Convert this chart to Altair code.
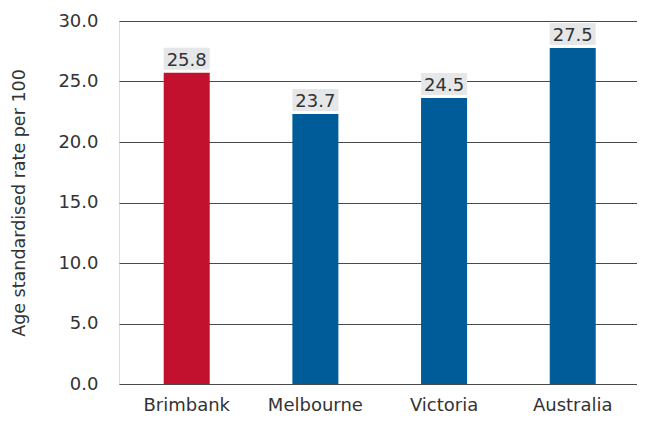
import altair as alt
import pandas as pd

categories = ["Brimbank", "Melbourne", "Victoria", "Australia"]
bar_values = [25.72, 22.31, 23.63, 27.77]
label_texts = ["25.8", "23.7", "24.5", "27.5"]
bar_colors = ["#c1112f", "#005b99", "#005b99", "#005b99"]
y_ticks = [0, 5, 10, 15, 20, 25, 30]

df = pd.DataFrame({"cat": categories, "val": bar_values, "lab": label_texts})

FONT = "DejaVu Sans"
TXT = "#333333"
BG = "#e6e7e9"
FS = 18

x = alt.X("cat:N", sort=categories, title=None,
          scale=alt.Scale(paddingInner=0.6425, paddingOuter=0.334, align=0.52),
          axis=alt.Axis(labelAngle=0, ticks=False, domain=False, labelPadding=12,
                        labelFontSize=FS, labelFont=FONT, labelColor=TXT, grid=False))
y = alt.Y("val:Q", title="Age standardised rate per 100",
          scale=alt.Scale(domain=[0, 30], nice=False),
          axis=alt.Axis(values=y_ticks, format=".1f", ticks=False, domain=False,
                        labelPadding=21, labelFontSize=FS, labelFont=FONT, labelColor=TXT,
                        titleFont=FONT, titleFontSize=17.5, titleFontWeight="normal",
                        titleColor=TXT, titlePadding=29,
                        grid=True, gridColor="#4a4a4a", gridWidth=1, gridOpacity=1))

bars = alt.Chart(df).mark_bar(opacity=1).encode(
    x=x, y=y,
    color=alt.Color("cat:N", scale=alt.Scale(domain=categories, range=bar_colors), legend=None),
)
label_bg = alt.Chart(df).mark_bar(color=BG, opacity=1, yOffset=-3, y2Offset=-25).encode(
    x=alt.X("cat:N", sort=categories), y="val:Q", y2=alt.Y2("val:Q"))
labels = alt.Chart(df).mark_text(baseline="alphabetic", dy=-7, fontSize=FS, font=FONT,
                                 color=TXT).encode(
    x=alt.X("cat:N", sort=categories), y="val:Q", text="lab:N")

chart = alt.layer(bars, label_bg, labels).properties(
    width=518, height=363,
    autosize=alt.AutoSizeParams(type="none"),
    padding={"left": 111, "top": 13, "right": 0, "bottom": 30},
).configure_view(fill=BG, stroke=None).configure(background="white")

chart.save("out.html", embed_options={"renderer": "svg", "actions": False})
